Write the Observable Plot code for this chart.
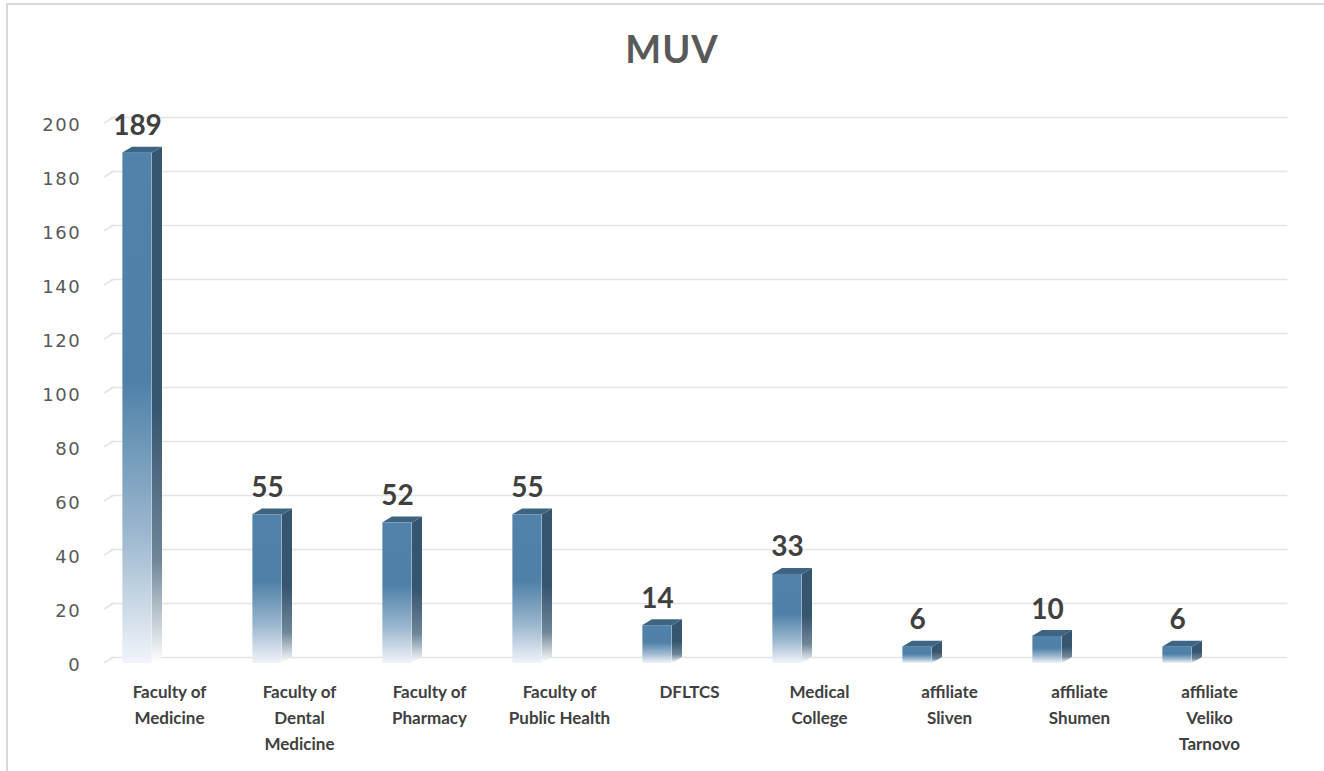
<!DOCTYPE html>
<html>
<head>
<meta charset="utf-8">
<script src="https://cdn.jsdelivr.net/npm/d3@7"></script>
<script src="https://cdn.jsdelivr.net/npm/@observablehq/plot@0.6"></script>
<style>
  html, body { margin: 0; padding: 0; background: #fff; overflow: hidden; }
  #wrap { position: relative; width: 1324px; height: 771px; overflow: hidden; }
  #frame { position: absolute; left: 6px; top: 3px; width: 1400px; height: 900px; border: 2px solid #d9d9d9; box-sizing: border-box; }
  #title { position: absolute; left: 10px; width: 1324px; top: 29px; text-align: center; font: bold 38px Lato, sans-serif; line-height: 38px; color: #595959; letter-spacing: 1px; }
  #chart { position: absolute; left: 0; top: 0; }
  g[aria-label="y-axis tick label"] text { letter-spacing: 1.5px; }
</style>
</head>
<body>
<div id="wrap">
  <div id="frame"></div>
  <div id="chart"></div>
  <div id="title">MUV</div>
</div>
<script>
const categories = ["Faculty of Medicine", "Faculty of Dental Medicine", "Faculty of Pharmacy", "Faculty of Public Health", "DFLTCS", "Medical College", "affiliate Sliven", "affiliate Shumen", "affiliate Veliko Tarnovo"];
const tickLabels = ["Faculty of\nMedicine", "Faculty of\nDental\nMedicine", "Faculty of\nPharmacy", "Faculty of\nPublic Health", "DFLTCS", "Medical\nCollege", "affiliate\nSliven", "affiliate\nShumen", "affiliate\nVeliko\nTarnovo"];
const values = [189, 55, 52, 55, 14, 33, 6, 10, 6];
const yTicks = [0, 20, 40, 60, 80, 100, 120, 140, 160, 180, 200];

const data = categories.map((c, i) => ({cat: c, value: values[i]}));
const labelOf = new Map(categories.map((c, i) => [c, tickLabels[i]]));

// 3D look constants (pixels)
const FRONT_OFF = 47, FRONT_W = 30, DEPTH_X = 10, DEPTH_Y = 6;

function defsAndFaces(index, scales) {
  const x = scales.x, y = scales.y;
  const step = x(categories[1]) - x(categories[0]);
  const g = d3.create("svg:g");
  const defs = g.append("defs");
  const gf = defs.append("linearGradient").attr("id", "gFront").attr("x1", 0).attr("y1", 0).attr("x2", 0).attr("y2", 1);
  gf.append("stop").attr("offset", "0").attr("stop-color", "#5183aa");
  gf.append("stop").attr("offset", "0.45").attr("stop-color", "#4f81a8");
  gf.append("stop").attr("offset", "0.75").attr("stop-color", "#9db8cf");
  gf.append("stop").attr("offset", "1").attr("stop-color", "#f1f4f9");
  const gs = defs.append("linearGradient").attr("id", "gSide").attr("x1", 0).attr("y1", 0).attr("x2", 0).attr("y2", 1);
  gs.append("stop").attr("offset", "0").attr("stop-color", "#36556f");
  gs.append("stop").attr("offset", "0.5").attr("stop-color", "#36556f");
  gs.append("stop").attr("offset", "0.8").attr("stop-color", "#6f8698");
  gs.append("stop").attr("offset", "1").attr("stop-color", "#ffffff");

  // floor slants on the left wall edge
  const x0 = x(categories[0]);
  for (const t of yTicks) {
    g.append("path")
      .attr("d", `M${x0},${y(t) + DEPTH_Y}L${x0 + DEPTH_X},${y(t)}`)
      .attr("stroke", "#e4e4e4").attr("stroke-width", 1.5).attr("fill", "none");
  }
  for (const d of data) {
    const l = x(d.cat) + step / 2 - FRONT_OFF, r = l + FRONT_W;
    const yt = y(d.value), yb = y(0);
    g.append("path")
      .attr("d", `M${r},${yt + DEPTH_Y}L${r + DEPTH_X},${yt}L${r + DEPTH_X},${yb}L${r},${yb + DEPTH_Y}Z`)
      .attr("fill", "url(#gSide)");
    g.append("path")
      .attr("d", `M${l},${yt + DEPTH_Y}L${r},${yt + DEPTH_Y}L${r + DEPTH_X},${yt}L${l + DEPTH_X},${yt}Z`)
      .attr("fill", "#3e6483");
  }
  return g.node();
}

const W = 1324, H = 771;
const left = 100.6, right = 1277.4;
const step = (right - left) / categories.length;

const chart = Plot.plot({
  width: W,
  height: H,
  marginLeft: left,
  marginRight: W - right,
  marginTop: 117,
  marginBottom: 114,
  style: {background: "transparent", overflow: "visible"},
  x: {domain: categories, padding: 0, label: null},
  y: {domain: [0, 200], label: null},
  marks: [
    Plot.ruleY(yTicks, {stroke: "#e4e4e4", strokeWidth: 1.5, dx: DEPTH_X}),
    Plot.axisY({ticks: yTicks, tickSize: 0, tickPadding: 20, dy: DEPTH_Y + 2, fontSize: 18, fontFamily: "DejaVu Sans", fill: "#595959", label: null}),
    Plot.axisX({tickSize: 0, tickPadding: 22, tickFormat: d => labelOf.get(d), fontSize: 17, fontWeight: "bold", fontFamily: "Lato", fill: "#404040", lineHeight: 1.53, label: null}),
    defsAndFaces,
    Plot.barY(data, {x: "cat", y: "value", fill: "url(#gFront)", insetLeft: step / 2 - FRONT_OFF, insetRight: step / 2 + FRONT_OFF - FRONT_W, dy: DEPTH_Y}),
    Plot.text(data, {x: "cat", y: "value", text: d => String(d.value), dx: -(FRONT_OFF - FRONT_W / 2), dy: -12, lineAnchor: "bottom", fontSize: 28, fontWeight: "bold", fontFamily: "Lato", fill: "#404040"})
  ]
});
document.getElementById("chart").appendChild(chart);
</script>
</body>
</html>
